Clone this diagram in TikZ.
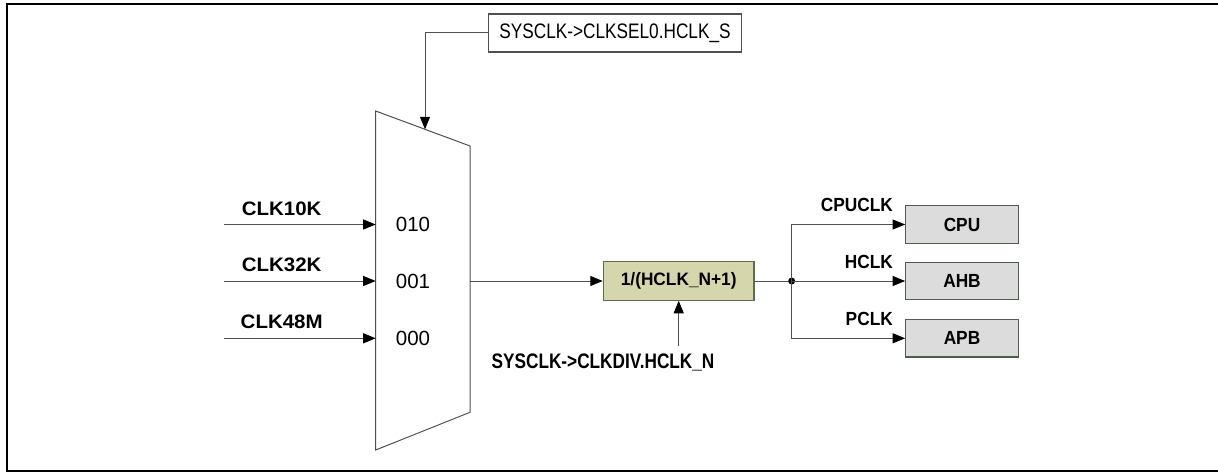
\documentclass[tikz,border=0pt]{standalone}
\usepackage{fontspec}
\setmainfont{Liberation Sans}
\newfontfamily\fnarrow[FakeStretch=0.82]{Liberation Sans}
\newfontfamily\fwide[FakeStretch=1.05]{Liberation Sans}
\newfontfamily\fmed[FakeStretch=0.91]{Liberation Sans}
\newfontfamily\fdiv[FakeStretch=0.96]{Liberation Sans}
\usetikzlibrary{arrows.meta}
\definecolor{linegray}{RGB}{80,80,80}
\definecolor{divfill}{RGB}{214,214,172}
\definecolor{divborder}{RGB}{90,110,80}
\definecolor{boxfill}{RGB}{220,220,220}
\definecolor{boxborder}{RGB}{75,95,75}
\begin{document}
\begin{tikzpicture}[x=1pt,y=-1pt,
  conn/.style={draw=linegray, line width=1pt, -{Triangle[length=12.5pt,width=10pt,color=black]}},
  plain/.style={draw=linegray, line width=1pt},
  topbox/.style={draw=linegray, line width=1.2pt, minimum width=253pt, minimum height=38pt, inner sep=0pt, font=\fnarrow\fontsize{21}{24}\selectfont},
  inlab/.style={inner sep=0pt, font=\fwide\bfseries\fontsize{19.5}{22}\selectfont},
  muxlab/.style={inner sep=0pt, font=\fontsize{20.5}{23}\selectfont},
  divbox/.style={draw=divborder, fill=divfill, line width=1.2pt, minimum width=150.7pt, minimum height=38.3pt, inner sep=0pt, font=\fdiv\bfseries\fontsize{18}{21}\selectfont},
  botlab/.style={inner sep=0pt, font=\fnarrow\bfseries\fontsize{21}{24}\selectfont},
  gbox/.style={draw=boxborder, fill=boxfill, line width=1.2pt, minimum width=112.5pt, minimum height=37.5pt, inner sep=0pt, font=\fmed\bfseries\fontsize{19}{22}\selectfont},
  outlab/.style={inner sep=0pt, font=\fmed\bfseries\fontsize{19}{22}\selectfont},
]
\useasboundingbox (0,0) rectangle (1218,473);
% frame
\draw[line width=2pt] (1222,4) -- (7,4) -- (7,471) -- (1222,471);

% top select box
\node[topbox] (sel) at (615,33) {SYSCLK->CLKSEL0.HCLK\_S};

% mux
\coordinate (mTL) at (375.7,111);
\coordinate (mTR) at (470,146);
\coordinate (mBR) at (470,412.3);
\coordinate (mBL) at (375.7,450);
\draw[plain] (mTL) -- (mTR) -- (mBR) -- (mBL) -- cycle;
\coordinate (selin) at (425,129.3);
\draw[conn] (sel.west) -| (selin);

% inputs
\coordinate (i1) at (224,224.5);
\coordinate (i2) at (224,281);
\coordinate (i3) at (224,338.3);
\coordinate (e1) at (375.7,224.5);
\coordinate (e2) at (375.7,281);
\coordinate (e3) at (375.7,338.3);
\draw[conn] (i1) -- (e1);
\draw[conn] (i2) -- (e2);
\draw[conn] (i3) -- (e3);
\node[inlab, anchor=base] (l1) at (281.7,215) {CLK10K};
\node[inlab, anchor=base] (l2) at (281.7,271.5) {CLK32K};
\node[inlab, anchor=base] (l3) at (281.7,328.5) {CLK48M};
\node[muxlab] (s1) at (413,224.5) {010};
\node[muxlab] (s2) at (413,281) {001};
\node[muxlab] (s3) at (413,338.3) {000};

% divider
\coordinate (mo) at (470,281);
\node[divbox] (div) at (678.7,281) {1/(HCLK\_N+1)};
\draw[conn] (mo) -- (div.west);
\node[botlab, anchor=base] (nlab) at (603,368.3) {SYSCLK->CLKDIV.HCLK\_N};
\coordinate (nst) at (678.7,345.5);
\draw[conn] (nst) -- (div.south);

% outputs
\coordinate (dot) at (791.7,281);
\draw[plain] (div.east) -- (dot);
\fill (dot) circle (3.5);
\node[gbox] (cpu) at (962,224.5) {CPU};
\node[gbox] (ahb) at (962,281) {AHB};
\node[gbox] (apb) at (962,338.3) {APB};
\draw[conn] (dot) |- (cpu.west);
\draw[conn] (dot) -- (ahb.west);
\draw[conn] (dot) |- (apb.west);
\node[outlab, anchor=base east] (o1) at (893,211.5) {CPUCLK};
\node[outlab, anchor=base east] (o2) at (893,268) {HCLK};
\node[outlab, anchor=base east] (o3) at (893,325.5) {PCLK};
\end{tikzpicture}
\end{document}
